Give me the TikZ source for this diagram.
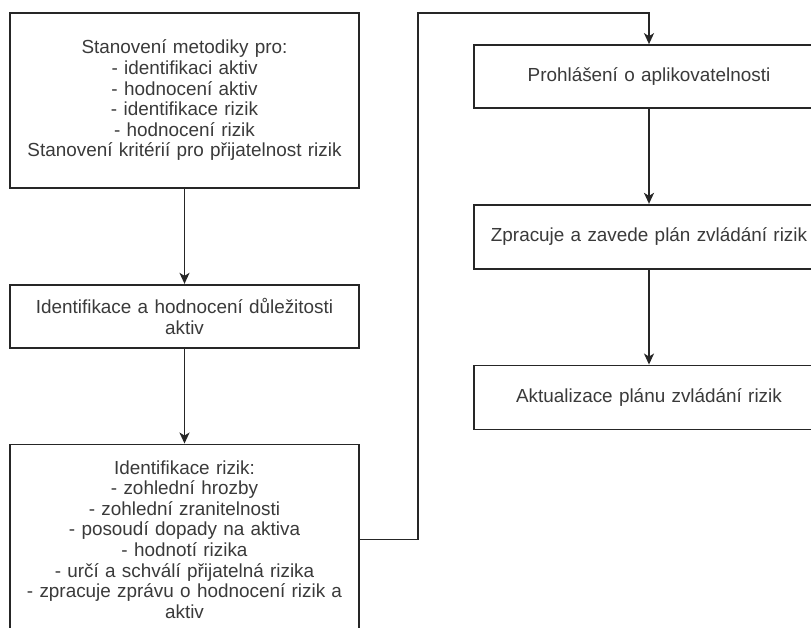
\documentclass[tikz,border=0pt]{standalone}
\usepackage{fontspec}
\setmainfont{Liberation Sans}
\usetikzlibrary{arrows.meta, positioning}
\definecolor{linegray}{HTML}{262626}
\definecolor{textgray}{HTML}{3A3A3A}
\tikzset{
  stepbox/.style={rectangle, draw=linegray, line width=1.7pt, fill=white,
                  text=textgray, text width=349pt, inner sep=0pt, align=center,
                  font=\fontsize{18.9}{20.6}\selectfont},
  arrow/.style={-{Stealth[length=11pt, width=10pt, inset=3pt]}, line width=1.7pt, draw=linegray},
}

\begin{document}
\begin{tikzpicture}[x=1pt, y=-1pt, node distance=95pt]
  \clip (0,0) rectangle (811,627);
  \useasboundingbox (0,0) rectangle (811,627);

  % Left column
  \node[stepbox, minimum height=175pt] (metodika) at (184.5,100.5)
    {Stanovení metodiky pro:\\- identifikaci aktiv\\- hodnocení aktiv\\- identifikace rizik\\- hodnocení rizik\\Stanovení kritérií pro přijatelnost rizik};
  \node[stepbox, minimum height=63pt, below=of metodika] (aktiva)
    {Identifikace a hodnocení důležitosti\\aktiv};
  \node[stepbox, minimum height=190pt, below=of aktiva] (rizika)
    {Identifikace rizik:\\- zohlední hrozby\\- zohlední zranitelnosti\\- posoudí dopady na aktiva\\- hodnotí rizika\\- určí a schválí přijatelná rizika\\- zpracuje zprávu o hodnocení rizik a\\aktiv};

  \draw[arrow] (metodika) -- (aktiva);
  \draw[arrow] (aktiva) -- (rizika);

  % Right column
  \node[stepbox, text width=350pt, minimum height=63pt] (prohlaseni) at (649,76.5)
    {Prohlášení o aplikovatelnosti};
  \node[stepbox, text width=350pt, minimum height=64pt, below=of prohlaseni] (plan)
    {Zpracuje a zavede plán zvládání rizik};
  \node[stepbox, text width=350pt, minimum height=64pt, below=of plan] (aktualizace)
    {Aktualizace plánu zvládání rizik};

  \draw[arrow] (prohlaseni) -- (plan);
  \draw[arrow] (plan) -- (aktualizace);

  % Link between columns
  \coordinate (turn) at (418,13);
  \draw[arrow] (rizika.east) -| (turn) -| (prohlaseni.north);

\end{tikzpicture}
\end{document}
